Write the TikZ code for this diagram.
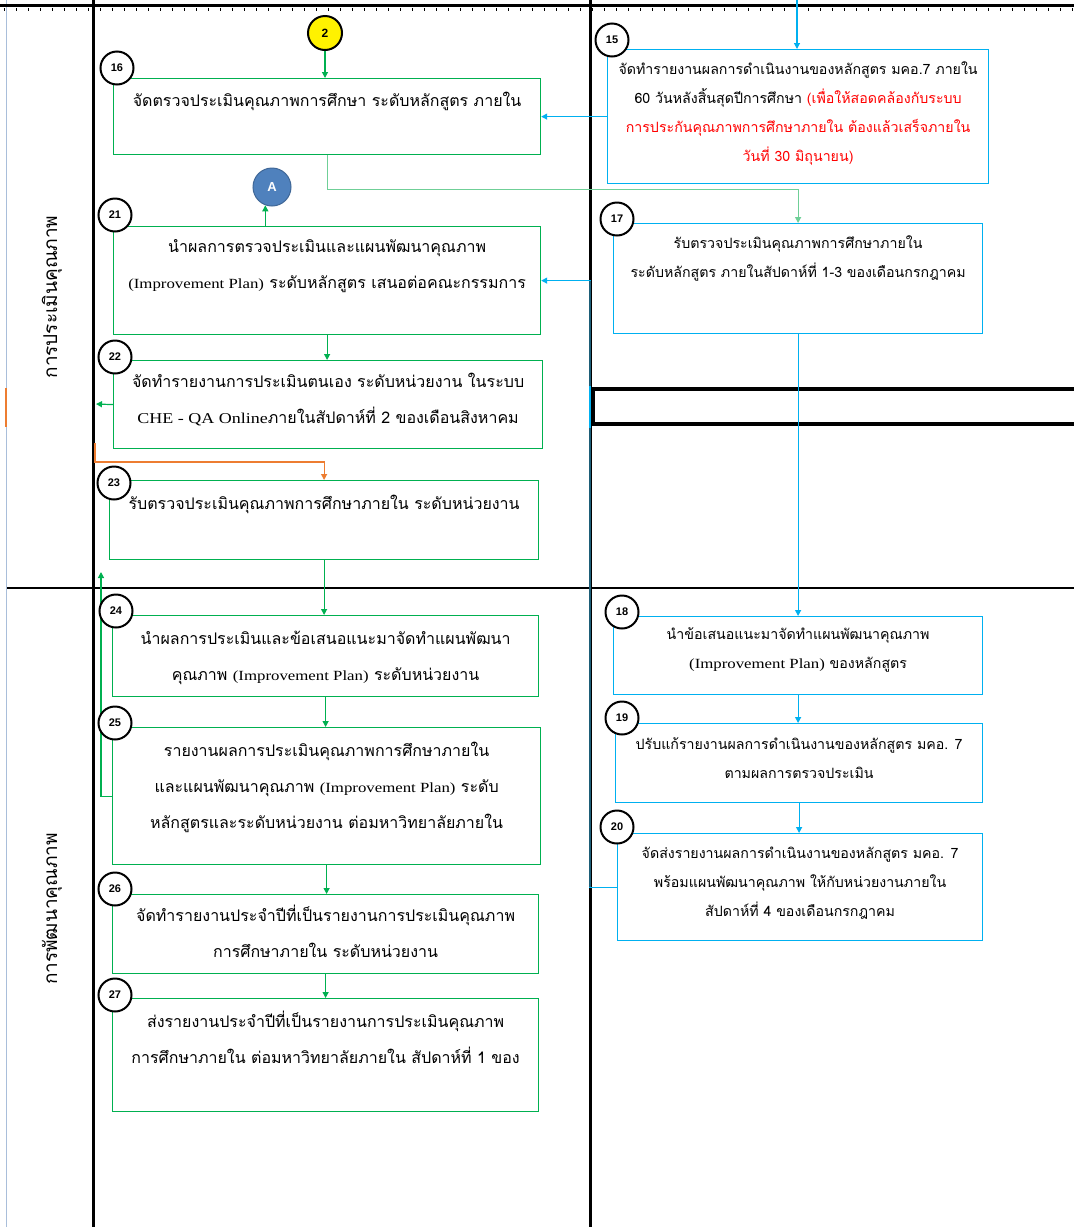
\documentclass[tikz,border=0pt]{standalone}
\usepackage{fontspec}
\setmainfont{Liberation Serif}
\newfontfamily\thaifont[Script=Thai]{Loma}
\newfontfamily\numfont{Liberation Sans}
\newfontfamily\latwide[FakeStretch=1.2]{Liberation Serif}
\usetikzlibrary{arrows.meta,calc}
\definecolor{gr}{HTML}{00B050}
\definecolor{lgr}{HTML}{6FCF97}
\definecolor{bl}{HTML}{00B0F0}
\definecolor{dbl}{HTML}{1D5E78}
\definecolor{org}{HTML}{ED7D31}
\definecolor{ablue}{HTML}{4F81BD}
\definecolor{rd}{HTML}{FF0000}
\definecolor{edge}{HTML}{A9BEDA}
\newcommand\latx[1]{{\latwide\fontsize{14}{14}\selectfont #1}}
\begin{document}
\begin{tikzpicture}[x=1pt,y=-1pt,
  gbox/.style={draw=gr,line width=1.2pt,anchor=north west,inner sep=0pt},
  bbox/.style={draw=bl,line width=1.2pt,anchor=north west,inner sep=0pt},
  numc/.style={circle,draw=black,line width=2pt,fill=white,minimum size=33pt,inner sep=0pt,font=\numfont\bfseries\fontsize{11}{11}\selectfont},
  ltxt/.style={align=center,anchor=north,inner sep=0pt,font=\thaifont\fontsize{16}{36}\selectfont},
  rtxt/.style={align=center,anchor=north,inner sep=0pt,font=\thaifont\fontsize{14.2}{29}\selectfont},
  lane/.style={rotate=90,font=\thaifont\fontsize{19}{20}\selectfont},
  arr/.style={-{Triangle[length=6pt,width=6pt]},line width=1.2pt},
]
\useasboundingbox (0,0) rectangle (1074,1227);
\fill[white] (0,0) rectangle (1074,1227);

% frame and lanes
\draw[edge,line width=1pt] (6,0) -- (6,1227);
\draw[org,line width=1.2pt] (6,388) -- (6,427);
\draw[line width=3pt] (0,5) -- (1074,5);
\draw[line width=3pt,dash pattern=on 1pt off 11pt] (4,9) -- (1074,9);
\draw[line width=3pt] (93,0) -- (93,1227);
\draw[line width=3pt] (590,0) -- (590,1227);
\draw[line width=2.5pt] (7,588) -- (1074,588);
\draw[line width=4pt] (1080,389) -- (593,389) -- (593,424) -- (1080,424);

\node[lane] (lane1) at (52,297) {การประเมินคุณภาพ};
\node[lane] (lane2) at (52,909) {การพัฒนาคุณภาพ};

% left column boxes
\node[gbox,minimum width=427pt,minimum height=76pt] (b16) at (113,78) {};
\node[gbox,minimum width=427pt,minimum height=108pt] (b21) at (113,226) {};
\node[gbox,minimum width=429pt,minimum height=88pt] (b22) at (113,360) {};
\node[gbox,minimum width=429pt,minimum height=79pt] (b23) at (109,480) {};
\node[gbox,minimum width=426pt,minimum height=81pt] (b24) at (112,615) {};
\node[gbox,minimum width=428pt,minimum height=137pt] (b25) at (112,727) {};
\node[gbox,minimum width=426pt,minimum height=79pt] (b26) at (112,894) {};
\node[gbox,minimum width=426pt,minimum height=113pt] (b27) at (112,998) {};

% right column boxes
\node[bbox,minimum width=381pt,minimum height=134pt] (b15) at (607,49) {};
\node[bbox,minimum width=369pt,minimum height=110pt] (b17) at (613,223) {};
\node[bbox,minimum width=369pt,minimum height=78pt] (b18) at (613,616) {};
\node[bbox,minimum width=367pt,minimum height=79pt] (b19) at (615,723) {};
\node[bbox,minimum width=365pt,minimum height=107pt] (b20) at (617,833) {};

% texts
\node[ltxt] (t16) at ($(b16.north)+(0,14)$) {จัดตรวจประเมินคุณภาพการศึกษา ระดับหลักสูตร ภายใน};
\node[ltxt] (t21) at ($(b21.north)+(0,13)$) {นำผลการตรวจประเมินและแผนพัฒนาคุณภาพ\\\latx{(Improvement Plan)} ระดับหลักสูตร เสนอต่อคณะกรรมการ};
\node[ltxt] (t22) at ($(b22.north)+(0,13)$) {จัดทำรายงานการประเมินตนเอง ระดับหน่วยงาน ในระบบ\\{\latwide\fontsize{15}{15}\selectfont CHE - QA Online}ภายในสัปดาห์ที่ 2 ของเดือนสิงหาคม};
\node[ltxt] (t23) at ($(b23.north)+(0,15)$) {รับตรวจประเมินคุณภาพการศึกษาภายใน ระดับหน่วยงาน};
\node[ltxt] (t24) at ($(b24.north)+(0,16)$) {นำผลการประเมินและข้อเสนอแนะมาจัดทำแผนพัฒนา\\คุณภาพ \latx{(Improvement Plan)} ระดับหน่วยงาน};
\node[ltxt] (t25) at ($(b25.north)+(0,15)$) {รายงานผลการประเมินคุณภาพการศึกษาภายใน\\และแผนพัฒนาคุณภาพ \latx{(Improvement Plan)} ระดับ\\หลักสูตรและระดับหน่วยงาน ต่อมหาวิทยาลัยภายใน};
\node[ltxt] (t26) at ($(b26.north)+(0,11)$) {จัดทำรายงานประจำปีที่เป็นรายงานการประเมินคุณภาพ\\การศึกษาภายใน ระดับหน่วยงาน};
\node[ltxt] (t27) at ($(b27.north)+(0,13)$) {ส่งรายงานประจำปีที่เป็นรายงานการประเมินคุณภาพ\\การศึกษาภายใน ต่อมหาวิทยาลัยภายใน สัปดาห์ที่ 1 ของ};

\node[rtxt] (t15) at ($(b15.north)+(0,13)$) {จัดทำรายงานผลการดำเนินงานของหลักสูตร มคอ.7 ภายใน\\60 วันหลังสิ้นสุดปีการศึกษา \textcolor{rd}{(เพื่อให้สอดคล้องกับระบบ}\\\textcolor{rd}{การประกันคุณภาพการศึกษาภายใน ต้องแล้วเสร็จภายใน}\\\textcolor{rd}{วันที่ 30 มิถุนายน)}};
\node[rtxt] (t17) at ($(b17.north)+(0,13)$) {รับตรวจประเมินคุณภาพการศึกษาภายใน\\ระดับหลักสูตร ภายในสัปดาห์ที่ 1-3 ของเดือนกรกฎาคม};
\node[rtxt] (t18) at ($(b18.north)+(0,11)$) {นำข้อเสนอแนะมาจัดทำแผนพัฒนาคุณภาพ\\\latx{(Improvement Plan)} ของหลักสูตร};
\node[rtxt] (t19) at ($(b19.north)+(0,14)$) {ปรับแก้รายงานผลการดำเนินงานของหลักสูตร มคอ. 7\\ตามผลการตรวจประเมิน};
\node[rtxt] (t20) at ($(b20.north)+(0,14)$) {จัดส่งรายงานผลการดำเนินงานของหลักสูตร มคอ. 7\\พร้อมแผนพัฒนาคุณภาพ ให้กับหน่วยงานภายใน\\สัปดาห์ที่ 4 ของเดือนกรกฎาคม};

% special circles
\node[circle,draw=black,line width=2pt,fill=yellow,minimum size=34pt,inner sep=0pt,font=\numfont\bfseries\fontsize{12}{12}\selectfont] (c2) at (325,33) {2};
\node[circle,draw=ablue!80!black,line width=1pt,fill=ablue,minimum size=38pt,inner sep=0pt,text=white,font=\numfont\bfseries\fontsize{13}{13}\selectfont] (cA) at (272,187) {A};

% connectors
\coordinate (topin) at (797,0);
\coordinate (lf1) at (96,404);
\coordinate (o1) at (95,443);
\coordinate (g1) at (101,572);
\coordinate (mid) at (590,0);

\draw[arr,bl] (topin) -- (topin |- b15.north);
\draw[arr,bl] (b15.west) -- (b16.east);
\draw[arr,gr] (c2) -- (c2 |- b16.north);
\draw[arr,lgr] (b16.south) -- ++(0,34) -| (b17.north);
\draw[arr,gr] (cA.250 |- b21.north) -- (cA.250);
\draw[arr,gr] (b21.south) -- (b21.south |- b22.north);
\draw[arr,gr] (b22.west) -- (lf1);
\draw[arr,org] (o1) -- ++(0,19) -| (b23.north);
\draw[arr,gr] (b23.south) -- (b23.south |- b24.north);
\draw[arr,gr] (b24.south) -- (b24.south |- b25.north);
\draw[arr,gr] (b25.south) -- (b25.south |- b26.north);
\draw[arr,gr] (b26.south) -- (b26.south |- b27.north);
\draw[arr,gr] (b25.west) -| (g1);
\draw[arr,bl] (b17.south) -- (b17.south |- b18.north);
\draw[arr,bl] (b18.south) -- (b18.south |- b19.north);
\draw[arr,bl] (b19.south) -- (b19.south |- b20.north);
\draw[arr,bl] (b20.west) -- (b20.west -| mid) -- (b21.east -| mid) -- (b21.east);
\draw[dbl,line width=2.6pt] (b20.west -| mid) -- (b21.east -| mid);
\draw[bl,line width=2.6pt] ($(mid)+(0,386)$) -- ($(mid)+(0,428)$);

% step numbers
\node[numc] (n15) at (612,40) {15};
\node[numc] (n16) at (117,68) {16};
\node[numc] (n17) at (617,219) {17};
\node[numc] (n21) at (115,215) {21};
\node[numc] (n22) at (115,357) {22};
\node[numc] (n23) at (114,483) {23};
\node[numc] (n24) at (116,611) {24};
\node[numc] (n25) at (115,723) {25};
\node[numc] (n26) at (115,889) {26};
\node[numc] (n27) at (115,995) {27};
\node[numc] (n18) at (622,612) {18};
\node[numc] (n19) at (622,718) {19};
\node[numc] (n20) at (617,827) {20};
\end{tikzpicture}
\end{document}
